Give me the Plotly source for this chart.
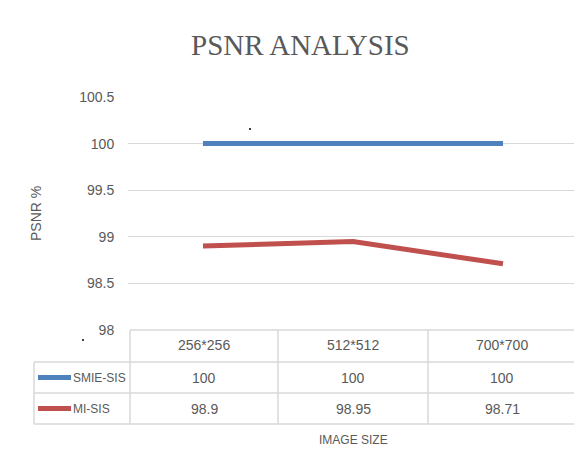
import plotly.graph_objects as go

categories = ["256*256", "512*512", "700*700"]
series_names = ["SMIE-SIS", "MI-SIS"]
smie_sis = [100, 100, 100]
mi_sis = [98.9, 98.95, 98.71]
y_ticks = [98, 98.5, 99, 99.5, 100, 100.5]
colors = ["#4F81BD", "#C0504D"]

OFF = 8  # page body margin
W, H = 582 - OFF, 472 - OFF
L, R, T, B = 128, 578, 97, 330  # plot area in reference pixels


def px(x):
    return (x - L) / (R - L)


def py(y):
    return (B - y) / (B - T)


fig = go.Figure()
for name, vals, col in zip(series_names, [smie_sis, mi_sis], colors):
    fig.add_trace(go.Scatter(x=categories, y=vals, mode="lines", name=name,
                             line=dict(color=col, width=5), showlegend=False))

grey = "#595959"
fam = "Liberation Sans Narrow, Liberation Sans, Arial"
tick_font = dict(family=fam, size=14, color=grey)
grid = "#D9D9D9"

fig.update_layout(
    width=W, height=H,
    margin=dict(l=L - OFF, r=W - (R - OFF), t=T - OFF, b=H - (B - OFF)),
    paper_bgcolor="white", plot_bgcolor="white",
    xaxis=dict(type="category", range=[-0.5, 2.5], showticklabels=False,
               showgrid=False, zeroline=False, showline=False),
    yaxis=dict(range=[98, 100.5], tickvals=y_ticks, ticktext=[f"{v:g}" for v in y_ticks],
               showgrid=True, gridcolor=grid, gridwidth=1, zeroline=False, showline=False,
               ticks="outside", ticklen=10, tickcolor="rgba(0,0,0,0)", tickfont=tick_font),
)

shapes = []


def hline(y, x0, x1):
    shapes.append(dict(type="line", xref="paper", yref="paper", x0=px(x0), x1=px(x1),
                       y0=py(y), y1=py(y), line=dict(color=grid, width=1.5)))


def vline(x, y0, y1):
    shapes.append(dict(type="line", xref="paper", yref="paper", x0=px(x), x1=px(x),
                       y0=py(y0), y1=py(y1), line=dict(color=grid, width=1.5)))


# table grid
x_left, x_lab = 34, 130
col_edges = [130, 278, 428, 576]
y_top, y_rows = 330, [362, 393, 424]
hline(y_top, x_lab, col_edges[-1])
for yy in y_rows:
    hline(yy, x_left, col_edges[-1])
vline(x_left, y_rows[0], y_rows[-1])
for xx in col_edges:
    vline(xx, y_top, y_rows[-1])

col_centers = [(a + b) / 2 for a, b in zip(col_edges[:-1], col_edges[1:])]
row_ys = [377.5, 408.5]

# legend keys in table
for ry, col in zip(row_ys, colors):
    shapes.append(dict(type="line", xref="paper", yref="paper", x0=px(38), x1=px(71),
                       y0=py(ry), y1=py(ry), line=dict(color=col, width=5)))

# stray dots
for dx, dy in [(250, 129), (83, 340)]:
    shapes.append(dict(type="circle", xref="paper", yref="paper", x0=px(dx - 1), x1=px(dx + 1),
                       y0=py(dy - 1), y1=py(dy + 1), fillcolor="black", line=dict(width=0)))

fig.update_layout(shapes=shapes)

annotations = []


def text(t, x, y, font, anchor="center", angle=0):
    annotations.append(dict(text=t, x=px(x), y=py(y), xref="paper", yref="paper",
                            showarrow=False, xanchor=anchor, yanchor="middle",
                            textangle=angle, font=font))


for c, cx in zip(categories, col_centers):
    text(c, cx, 345, tick_font)
for vals, ry in zip([smie_sis, mi_sis], row_ys):
    for v, cx in zip(vals, col_centers):
        text(f"{v:g}", cx, ry, tick_font)
for name, ry in zip(series_names, row_ys):
    text(name, 71, ry, dict(family=fam, size=12, color=grey), anchor="left")
text("IMAGE SIZE", 353, 440, dict(family=fam, size=12, color=grey))
text("PSNR %", 36, 214, dict(family=fam, size=14, color=grey), angle=-90)
text("PSNR ANALYSIS", 300, 45, dict(family="Liberation Serif, serif", size=29, color=grey))
fig.update_layout(annotations=annotations)

fig.write_html("out.html")
